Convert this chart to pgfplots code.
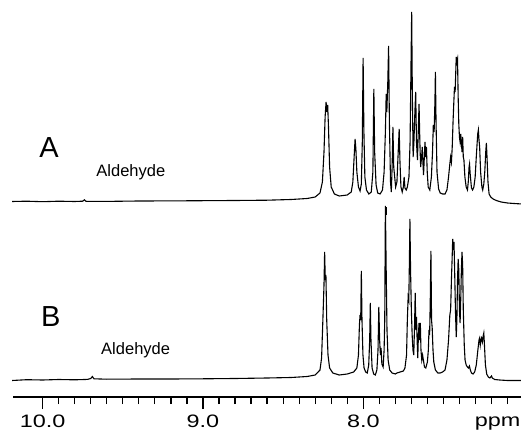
\documentclass[border=0pt]{standalone}
\usepackage{fontspec}
\setmainfont{Liberation Sans}
\newfontfamily\tickfont[FakeStretch=1.3]{Liberation Sans}
\usepackage{pgfplots}
\pgfplotsset{compat=1.18}
\usepackage{pgfplotstable}

% spectrum A: ppm, height above its own baseline (px)
\pgfplotstableread{
ppm h
10.19 0.5
10.10 0.8
10.00 0.3
9.90 0.8
9.80 0.5
9.75 0.8
9.74 2.2
9.73 0.7
9.60 0.6
9.40 1.0
9.20 1.1
9.00 1.3
8.80 1.5
8.60 1.8
8.45 2.5
8.35 3.5
8.30 5
8.27 9
8.255 20
8.245 50
8.238 85
8.232 100
8.227 90
8.222 97
8.217 75
8.21 35
8.20 15
8.18 8
8.15 6
8.10 7
8.075 10
8.065 20
8.057 45
8.051 63
8.046 53
8.04 30
8.03 15
8.02 11
8.012 18
8.006 60
8.001 144
7.996 70
7.99 25
7.98 12
7.965 8
7.95 10
7.94 30
7.934 113
7.929 50
7.92 17
7.91 9
7.895 8
7.88 12
7.87 30
7.862 70
7.857 108
7.853 90
7.847 120
7.842 156
7.837 80
7.83 20
7.825 10
7.82 35
7.815 75
7.81 35
7.804 25
7.798 15
7.79 20
7.776 73
7.771 40
7.765 15
7.757 10
7.75 15
7.745 25
7.74 14
7.732 12
7.725 15
7.715 25
7.708 60
7.702 140
7.698 190
7.694 110
7.689 45
7.684 60
7.678 90
7.673 110
7.668 60
7.662 42
7.657 70
7.652 98
7.647 60
7.642 35
7.636 45
7.632 55
7.628 40
7.624 27
7.619 45
7.615 60
7.61 45
7.606 55
7.601 30
7.595 15
7.585 12
7.575 25
7.568 50
7.563 77
7.558 70
7.553 100
7.55 130
7.546 80
7.54 30
7.53 13
7.52 9
7.505 8
7.49 8
7.478 12
7.468 25
7.46 38
7.455 45
7.45 40
7.445 55
7.44 80
7.435 100
7.431 115
7.427 110
7.423 130
7.42 145
7.416 140
7.412 143
7.408 105
7.404 78
7.40 65
7.396 60
7.392 68
7.388 60
7.384 50
7.38 65
7.376 45
7.372 42
7.366 25
7.358 15
7.35 12
7.345 20
7.34 35
7.337 38
7.333 28
7.325 14
7.318 12
7.31 15
7.302 25
7.295 45
7.29 58
7.286 68
7.282 72
7.278 62
7.274 55
7.268 30
7.26 15
7.255 12
7.248 18
7.242 30
7.236 50
7.232 59
7.228 45
7.222 20
7.215 8
7.205 5
7.19 3
7.17 1.5
7.14 0
7.10 -1
7.06 -1.5
7.01 -2
}\specA

% spectrum B
\pgfplotstableread{
ppm h
10.19 -0.5
10.10 0.3
10.00 0.0
9.90 0.5
9.80 0.2
9.72 0.6
9.70 1.5
9.69 3.5
9.68 1.2
9.60 0.8
9.40 1.0
9.20 1.0
9.00 1.2
8.80 1.5
8.60 2.0
8.45 2.5
8.35 3.5
8.30 5
8.27 10
8.26 22
8.252 60
8.245 95
8.241 128
8.237 100
8.233 105
8.228 60
8.22 25
8.21 12
8.19 7
8.15 5
8.10 6
8.06 8
8.04 12
8.03 25
8.024 55
8.02 65
8.016 60
8.012 109
8.008 60
8.002 25
7.995 12
7.985 8
7.975 7
7.966 15
7.96 40
7.956 77
7.952 40
7.945 12
7.935 6
7.925 5
7.915 10
7.908 30
7.903 73
7.898 40
7.893 25
7.889 32
7.884 16
7.876 13
7.87 30
7.866 60
7.862 174
7.857 110
7.852 50
7.845 20
7.835 10
7.82 7
7.80 6
7.79 7
7.77 8
7.75 9
7.74 12
7.73 25
7.725 60
7.72 83
7.716 80
7.712 120
7.709 161
7.705 110
7.70 70
7.695 45
7.69 30
7.685 25
7.68 55
7.676 87
7.672 50
7.668 63
7.664 40
7.66 22
7.656 45
7.652 57
7.648 40
7.644 57
7.64 30
7.635 20
7.63 25
7.625 20
7.618 13
7.61 12
7.60 18
7.594 30
7.59 50
7.586 45
7.582 80
7.578 129
7.574 60
7.57 52
7.565 30
7.56 18
7.55 10
7.535 7
7.52 7
7.505 8
7.49 10
7.478 20
7.468 40
7.46 65
7.455 70
7.45 100
7.446 120
7.442 141
7.438 130
7.434 138
7.43 110
7.425 70
7.42 43
7.416 60
7.412 100
7.408 121
7.404 110
7.40 70
7.396 57
7.392 80
7.388 110
7.384 128
7.38 115
7.376 70
7.37 35
7.365 20
7.358 15
7.35 13
7.344 12
7.338 14
7.332 10
7.325 7
7.315 6
7.305 8
7.295 15
7.285 30
7.278 40
7.274 42
7.27 35
7.266 40
7.262 42
7.257 38
7.252 44
7.248 47
7.244 35
7.238 15
7.23 6
7.22 3
7.21 2
7.20 4
7.195 2
7.18 0.5
7.15 0
7.10 -0.5
7.01 -0.5
}\specB

\begin{document}
\begin{tikzpicture}
\path[use as bounding box] (-12.7pt,-36pt) rectangle (508.3pt,397pt);
\begin{axis}[
    scale only axis,
    width=508.3pt, height=397pt,
    x dir=reverse,
    xmin=7.016, xmax=10.187,
    ymin=-17, ymax=380,
    axis x line*=bottom,
    hide y axis,
    axis line style={line width=1.2pt, -},
    xtick={7,8,9,10},
    minor x tick num=9,
    tick align=outside,
    major tick length=12pt,
    minor tick length=7pt,
    every tick/.style={black, line width=1.2pt},
    xticklabel style={font=\tickfont\fontsize{18}{18}\selectfont, yshift=-2pt,
        /pgf/number format/fixed, /pgf/number format/fixed zerofill,
        /pgf/number format/precision=1,
        /pgf/number format/assume math mode=true},
    clip=false,
]
\addplot[black, line width=1.1pt] table[x=ppm, y expr=\thisrow{h}+178] {\specA};
\addplot[black, line width=1.1pt] table[x=ppm, y=h] {\specB};
\draw[line width=1pt] (axis cs:7.856,165) -- (axis cs:7.856,173);
\node[anchor=base, font=\fontsize{29}{29}\selectfont] at (axis cs:9.96,222) {A};
\node[anchor=base, font=\fontsize{16.5}{16.5}\selectfont] at (axis cs:9.45,203) {Aldehyde};
\node[anchor=base, font=\fontsize{29}{29}\selectfont] at (axis cs:9.95,53) {B};
\node[anchor=base, font=\fontsize{16.5}{16.5}\selectfont] at (axis cs:9.42,25) {Aldehyde};
\node[anchor=base east, inner sep=0pt, font=\tickfont\fontsize{18}{18}\selectfont]
    at (axis cs:7.018,-46) {ppm};
\end{axis}
\end{tikzpicture}
\end{document}
